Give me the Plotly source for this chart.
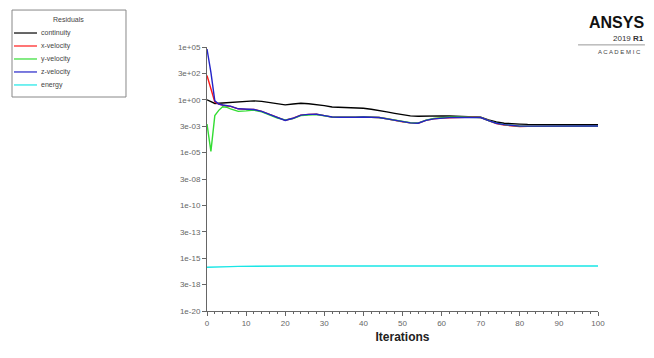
import plotly.graph_objects as go

iterations = [0, 1, 2, 3, 4, 5, 6, 8, 10, 12, 14, 16, 18, 20, 22, 24, 26, 28, 30, 32, 34,
              36, 38, 40, 42, 44, 46, 48, 50, 52, 54, 56, 58, 60, 62, 64, 66, 68, 70, 72,
              74, 76, 78, 80, 82, 84, 86, 88, 90, 92, 94, 96, 98, 100]

continuity = [1.0, 0.63, 0.45, 0.47, 0.5, 0.5, 0.52, 0.56, 0.71, 0.79, 0.71, 0.56, 0.45,
              0.33, 0.4, 0.47, 0.42, 0.37, 0.28, 0.21, 0.2, 0.19, 0.18, 0.16, 0.126, 0.1,
              0.071, 0.052, 0.04, 0.030, 0.028, 0.0295, 0.0316, 0.030, 0.0295, 0.028,
              0.025, 0.0234, 0.0224, 0.0126, 0.0079, 0.006, 0.0052, 0.005, 0.0047, 0.0046,
              0.0046, 0.0045, 0.0045, 0.0045, 0.0044, 0.0044, 0.0044, 0.0044]

x_velocity = [200.0, 10.0, 0.63, 0.4, 0.32, 0.25, 0.24, 0.14, 0.125, 0.12, 0.08, 0.04,
              0.02, 0.0115, 0.018, 0.035, 0.042, 0.043, 0.032, 0.023, 0.022, 0.021, 0.022,
              0.0235, 0.0235, 0.021, 0.016, 0.0112, 0.0083, 0.0066, 0.006, 0.0112, 0.016,
              0.019, 0.0204, 0.0214, 0.0224, 0.0234, 0.021, 0.0102, 0.0055, 0.0040,
              0.0033, 0.0030, 0.0031, 0.0031, 0.0032, 0.0032, 0.0032, 0.0033, 0.0033,
              0.0033, 0.0033, 0.0033]

y_velocity = [0.005, 1.3e-05, 0.032, 0.1, 0.22, 0.2, 0.14, 0.08, 0.089, 0.105, 0.071,
              0.035, 0.019, 0.0126, 0.0166, 0.032, 0.038, 0.04, 0.031, 0.023, 0.022,
              0.021, 0.0224, 0.0234, 0.0234, 0.021, 0.016, 0.0115, 0.0085, 0.0068,
              0.0063, 0.0118, 0.0175, 0.0214, 0.0229, 0.0234, 0.0234, 0.0234, 0.0214,
              0.0107, 0.0062, 0.0045, 0.0036, 0.0032, 0.0032, 0.0032, 0.0032, 0.0032,
              0.0033, 0.0033, 0.0033, 0.0033, 0.0033, 0.0033]

z_velocity = [63000.0, 400.0, 0.79, 0.4, 0.32, 0.28, 0.25, 0.14, 0.126, 0.12, 0.079,
              0.04, 0.02, 0.0112, 0.0178, 0.035, 0.042, 0.043, 0.0316, 0.0234, 0.0219,
              0.0209, 0.0224, 0.0234, 0.0234, 0.0209, 0.0158, 0.0112, 0.0083, 0.0066,
              0.006, 0.0112, 0.0158, 0.019, 0.0204, 0.0214, 0.0224, 0.0234, 0.0209,
              0.0105, 0.006, 0.0045, 0.0035, 0.0032, 0.0032, 0.0032, 0.0032, 0.0032,
              0.0032, 0.0033, 0.0033, 0.0033, 0.0033, 0.0033]

energy = [1.4e-16, 1.4e-16, 1.4e-16, 1.45e-16, 1.5e-16, 1.5e-16, 1.6e-16, 1.7e-16,
          1.75e-16, 1.8e-16, 1.8e-16, 1.8e-16, 1.8e-16, 1.8e-16, 1.8e-16, 1.8e-16,
          1.8e-16, 1.8e-16, 1.8e-16, 1.8e-16, 1.8e-16, 1.8e-16, 1.8e-16, 1.8e-16,
          1.8e-16, 1.8e-16, 1.8e-16, 1.8e-16, 1.8e-16, 1.8e-16, 1.8e-16, 1.8e-16,
          1.8e-16, 1.8e-16, 1.8e-16, 1.8e-16, 1.8e-16, 1.8e-16, 1.8e-16, 1.8e-16,
          1.8e-16, 1.8e-16, 1.8e-16, 1.8e-16, 1.8e-16, 1.8e-16, 1.8e-16, 1.8e-16,
          1.8e-16, 1.8e-16, 1.8e-16, 1.8e-16, 1.8e-16, 1.8e-16]

series_names = ["continuity", "x-velocity", "y-velocity", "z-velocity", "energy"]
series_colors = ["#000000", "#ff1a1a", "#33dd33", "#2323c8", "#19e6e6"]
series_values = [continuity, x_velocity, y_velocity, z_velocity, energy]

y_tick_values = [1e5, 10**2.5, 1e0, 10**-2.5, 1e-5, 10**-7.5, 1e-10, 10**-12.5, 1e-15,
                 10**-17.5, 1e-20]
y_tick_labels = ["1e+05", "3e+02", "1e+00", "3e-03", "1e-05", "3e-08", "1e-10", "3e-13",
                 "1e-15", "3e-18", "1e-20"]
x_tick_values = [0, 10, 20, 30, 40, 50, 60, 70, 80, 90, 100]

FONT = "Liberation Sans, Arial, sans-serif"

fig = go.Figure()
for name, color, vals in zip(series_names, series_colors, series_values):
    fig.add_trace(go.Scatter(x=iterations, y=vals, mode="lines", name=name,
                             line=dict(color=color, width=1.4), showlegend=False))

fig.update_layout(
    width=654, height=358, autosize=False,
    margin=dict(l=207, r=56, t=47, b=47),
    paper_bgcolor="white", plot_bgcolor="white",
    font=dict(family=FONT, size=8, color="#555555"),
)
fig.update_xaxes(
    range=[0, 100], showgrid=False, zeroline=False, showline=True,
    linecolor="#666666", linewidth=1,
    tickmode="array", tickvals=x_tick_values, ticks="outside", ticklen=4,
    tickcolor="#666666", tickfont=dict(size=8, color="#666666"),
    minor=dict(dtick=2, tick0=0, ticks="outside", ticklen=2, tickcolor="#666666"),
    title=dict(text="<b>Iterations</b>", font=dict(size=12, color="#222222"), standoff=6),
)
fig.update_yaxes(
    type="log", range=[-20, 5], showgrid=False, zeroline=False, showline=True,
    linecolor="#666666", linewidth=1,
    tickmode="array", tickvals=y_tick_values, ticktext=y_tick_labels,
    ticks="outside", ticklen=4, tickcolor="#666666",
    tickfont=dict(size=8, color="#666666"),
)

# legend box drawn from series names/colors (paper coordinates)
shapes = [dict(type="rect", xref="paper", yref="paper", layer="above",
               x0=-0.4987, x1=-0.2072, y0=0.8106, y1=1.140,
               line=dict(color="#888888", width=1), fillcolor="white")]
annotations = [dict(text="Residuals", xref="paper", yref="paper", x=-0.353, y=1.106,
                    showarrow=False, font=dict(size=7, color="#444444"),
                    xanchor="center", yanchor="middle")]
legend_top = 1.053
legend_step = 0.0492
for i, (name, color) in enumerate(zip(series_names, series_colors)):
    yy = legend_top - i * legend_step
    shapes.append(dict(type="line", xref="paper", yref="paper", x0=-0.4936, x1=-0.4348,
                       y0=yy, y1=yy, line=dict(color=color, width=1.2)))
    annotations.append(dict(text=name, xref="paper", yref="paper", x=-0.4297, y=yy,
                            showarrow=False, xanchor="left", yanchor="middle",
                            font=dict(size=7, color="#444444")))

# ANSYS logo text
annotations += [
    dict(text="<b>ANSYS</b>", xref="paper", yref="paper", x=1.124, y=1.092,
         showarrow=False, xanchor="right", yanchor="middle",
         font=dict(size=16, color="#111111", family=FONT)),
    dict(text="2019 <b>R1</b>", xref="paper", yref="paper", x=1.122, y=1.032,
         showarrow=False, xanchor="right", yanchor="middle",
         font=dict(size=8, color="#333333", family=FONT)),
    dict(text="A C A D E M I C", xref="paper", yref="paper", x=1.115, y=0.981,
         showarrow=False, xanchor="right", yanchor="middle",
         font=dict(size=6, color="#444444", family=FONT)),
]
shapes.append(dict(type="line", xref="paper", yref="paper", x0=0.949, x1=1.12,
                   y0=1.008, y1=1.008, line=dict(color="#999999", width=1)))

fig.update_layout(shapes=shapes, annotations=annotations)
fig.write_html("out.html", config={"displayModeBar": False},
               post_script="document.body.style.margin='0px';")
